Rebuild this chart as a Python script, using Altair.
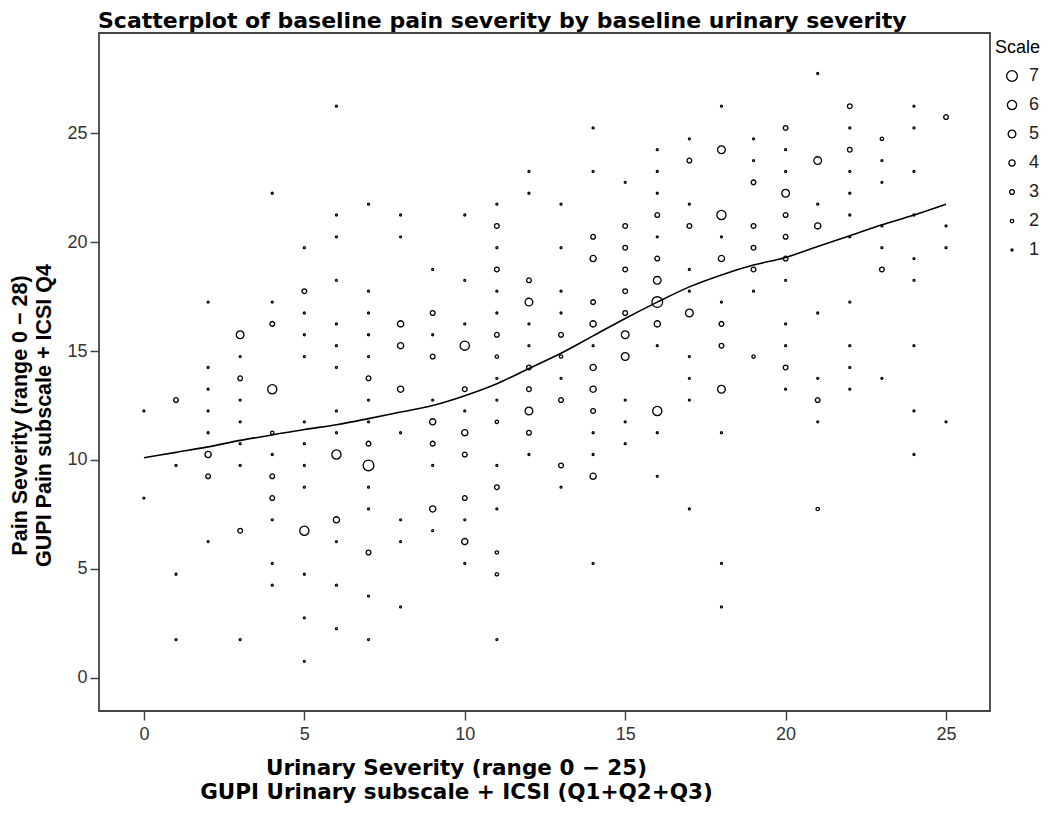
import altair as alt
import pandas as pd

# Urinary severity (x), then pain severity values (y) and count of cases at that point (n)
columns = [
    (0, [12.25, 8.25], [1, 1]),
    (1, [12.75, 9.75, 4.75, 1.75], [3, 1, 1, 1]),
    (2, [17.25, 14.25, 13.25, 12.25, 11.25, 10.25, 9.25, 6.25], [1, 1, 1, 1, 1, 4, 3, 1]),
    (3, [15.75, 14.75, 13.75, 12.75, 11.75, 10.75, 9.75, 6.75, 1.75], [5, 1, 3, 1, 1, 1, 1, 3, 1]),
    (4, [22.25, 17.25, 16.25, 13.25, 11.25, 10.25, 9.25, 8.25, 7.25, 5.25, 4.25], [1, 1, 3, 6, 2, 1, 3, 3, 1, 1, 1]),
    (5, [19.75, 17.75, 16.75, 15.75, 14.75, 11.75, 10.75, 9.75, 8.75, 6.75, 4.75, 2.75, 0.75], [1, 3, 1, 1, 1, 1, 1, 1, 1, 6, 1, 1, 1]),
    (6, [26.25, 21.25, 20.25, 18.25, 16.25, 15.25, 14.25, 12.25, 11.25, 10.25, 7.25, 6.25, 4.25, 2.25], [1, 1, 1, 1, 1, 1, 1, 1, 1, 6, 4, 1, 1, 1]),
    (7, [21.75, 17.75, 16.75, 15.75, 14.75, 13.75, 12.75, 11.75, 10.75, 9.75, 8.75, 7.75, 5.75, 3.75, 1.75], [1, 1, 1, 1, 1, 3, 1, 1, 3, 7, 1, 1, 3, 1, 1]),
    (8, [21.25, 20.25, 16.25, 15.25, 13.25, 11.25, 7.25, 6.25, 3.25], [1, 1, 4, 4, 4, 1, 1, 1, 1]),
    (9, [18.75, 16.75, 15.75, 14.75, 12.75, 11.75, 10.75, 9.75, 7.75, 6.75], [1, 3, 1, 3, 1, 4, 3, 1, 4, 1]),
    (10, [21.25, 18.25, 16.25, 15.25, 13.25, 12.25, 11.25, 10.25, 8.25, 7.25, 6.25, 5.25], [1, 1, 1, 6, 3, 1, 4, 3, 3, 1, 4, 1]),
    (11, [21.75, 20.75, 19.75, 18.75, 17.75, 16.75, 15.75, 14.75, 13.75, 12.75, 11.75, 9.75, 8.75, 7.75, 5.75, 4.75, 1.75], [1, 3, 1, 3, 1, 1, 3, 2, 1, 1, 2, 1, 3, 1, 2, 2, 1]),
    (12, [23.25, 22.25, 18.25, 17.25, 16.25, 15.25, 14.25, 13.25, 12.25, 11.25, 10.25], [1, 1, 3, 5, 1, 1, 3, 3, 5, 3, 1]),
    (13, [21.75, 19.75, 17.75, 16.75, 15.75, 14.75, 13.75, 12.75, 9.75, 8.75], [1, 1, 1, 1, 3, 2, 1, 3, 3, 1]),
    (14, [25.25, 23.25, 20.25, 19.25, 17.25, 16.25, 15.25, 14.25, 13.25, 12.25, 11.25, 10.25, 9.25, 5.25], [1, 1, 3, 4, 3, 4, 1, 4, 4, 3, 1, 1, 4, 1]),
    (15, [22.75, 20.75, 19.75, 18.75, 17.75, 16.75, 15.75, 14.75, 12.75, 11.75, 10.75], [1, 3, 3, 3, 3, 3, 5, 5, 1, 1, 1]),
    (16, [24.25, 23.25, 22.25, 21.25, 20.25, 19.25, 18.25, 17.25, 16.25, 15.25, 12.25, 11.25, 9.25], [1, 1, 1, 3, 1, 3, 5, 7, 4, 1, 6, 1, 1]),
    (17, [24.75, 23.75, 21.75, 20.75, 18.75, 17.75, 16.75, 14.75, 13.75, 12.75, 7.75], [1, 3, 1, 3, 1, 1, 5, 1, 1, 1, 1]),
    (18, [26.25, 24.25, 21.25, 20.25, 19.25, 17.25, 16.25, 15.25, 13.25, 11.25, 5.25, 3.25], [1, 5, 6, 1, 4, 1, 3, 3, 5, 1, 1, 1]),
    (19, [24.75, 23.75, 22.75, 20.75, 19.75, 18.75, 17.75, 14.75], [1, 1, 3, 3, 3, 3, 1, 2]),
    (20, [25.25, 24.25, 23.25, 22.25, 21.25, 20.25, 19.25, 18.25, 16.25, 15.25, 14.25, 13.25], [3, 1, 1, 5, 3, 3, 3, 1, 1, 1, 3, 1]),
    (21, [27.75, 23.75, 21.75, 20.75, 16.75, 13.75, 12.75, 11.75, 7.75], [1, 5, 1, 4, 1, 1, 3, 1, 2]),
    (22, [26.25, 25.25, 24.25, 23.25, 22.25, 21.25, 20.25, 17.25, 15.25, 14.25, 13.25], [3, 1, 3, 1, 1, 1, 1, 1, 1, 1, 1]),
    (23, [24.75, 23.75, 22.75, 20.75, 19.75, 18.75, 13.75], [2, 1, 1, 1, 1, 3, 1]),
    (24, [26.25, 25.25, 23.25, 21.25, 19.25, 18.25, 15.25, 12.25, 10.25], [1, 1, 1, 1, 1, 1, 1, 1, 1]),
    (25, [25.75, 20.75, 19.75, 11.75], [3, 1, 1, 1]),
]

# Loess fit line
fit_x = [0, 1, 2, 3, 4, 5, 6, 7, 8, 9, 10, 11, 12, 13, 14, 15, 16, 17, 18, 19, 20, 21, 22, 23, 24, 25]
fit_y = [10.1, 10.35, 10.6, 10.9, 11.15, 11.4, 11.62, 11.9, 12.2, 12.5, 12.95, 13.5, 14.2, 14.9, 15.7,
         16.5, 17.25, 17.95, 18.5, 18.95, 19.3, 19.8, 20.3, 20.8, 21.25, 21.75]

legend_values = [7, 6, 5, 4, 3, 2, 1]
x_ticks = [0, 5, 10, 15, 20, 25]
y_ticks = [0, 5, 10, 15, 20, 25]

chart_title = "Scatterplot of baseline pain severity by baseline urinary severity"

rows = []
for ux, ys, ns in columns:
    for yv, nv in zip(ys, ns):
        rows.append({"urinary": ux, "pain": yv, "Scale": nv})
points_df = pd.DataFrame(rows)
fit_df = pd.DataFrame({"urinary": fit_x, "pain": fit_y})
title_df = pd.DataFrame({"t": [chart_title]})

FONT = "Liberation Sans"
WIDE = "DejaVu Sans"

x_scale = alt.Scale(domain=[-1.40, 26.37], nice=False, zero=False)
y_scale = alt.Scale(domain=[-1.53, 29.61], nice=False, zero=False)

x_axis = alt.Axis(
    values=x_ticks, grid=False, domain=False,
    tickSize=9, tickColor="#444", tickWidth=1.5,
    labelFont=FONT, labelFontSize=18, labelColor="#333", labelPadding=5,
    title=["Urinary Severity (range 0 \u2212 25)", "GUPI Urinary subscale + ICSI (Q1+Q2+Q3)"],
    titleFont=WIDE, titleFontSize=21.5, titleFontWeight="bold", titleColor="#000",
    titleX=357, titleY=63, titleBaseline="alphabetic", titleLineHeight=24,
)
y_axis = alt.Axis(
    values=y_ticks, grid=False, domain=False,
    tickSize=9, tickColor="#444", tickWidth=1.5,
    labelFont=FONT, labelFontSize=18, labelColor="#333", labelPadding=3,
    title=["Pain Severity (range 0 \u2212 28)", "GUPI Pain subscale + ICSI Q4"],
    titleFont=FONT, titleFontSize=21.5, titleFontWeight="bold", titleColor="#000",
    titleX=-90, titleY=382, titleBaseline="top", titleLineHeight=24, titleAngle=270,
)

points = alt.Chart(points_df).mark_point(
    shape="circle", filled=False, stroke="black", strokeWidth=1.3, opacity=1
).encode(
    x=alt.X("urinary:Q", scale=x_scale, axis=x_axis),
    y=alt.Y("pain:Q", scale=y_scale, axis=y_axis),
    size=alt.Size(
        "Scale:Q",
        scale=alt.Scale(type="pow", exponent=2, domain=[1, 7], range=[4, 115], zero=False),
        legend=alt.Legend(
            values=legend_values, orient="none", legendX=896, legendY=6,
            title="Scale", titleFont=FONT, titleFontSize=18, titleFontWeight="normal",
            titleColor="#000", titlePadding=10,
            labelFont=FONT, labelFontSize=18, labelColor="#222", labelOffset=8,
            symbolStrokeColor="black", symbolFillColor="transparent", symbolStrokeWidth=1.3,
            symbolOffset=8, rowPadding=11, padding=0,
        ),
    ),
)

line = alt.Chart(fit_df).mark_line(color="black", strokeWidth=1.6, interpolate="monotone").encode(
    x=alt.X("urinary:Q", scale=x_scale),
    y=alt.Y("pain:Q", scale=y_scale),
)

title_text = alt.Chart(title_df).mark_text(
    align="left", baseline="alphabetic", font=WIDE, fontSize=22, fontWeight="bold", color="#000"
).encode(
    text="t:N",
    x=alt.value(-1),
    y=alt.value(-5),
)

chart = alt.layer(points, line, title_text).properties(
    width=891,
    height=678,
    autosize=alt.AutoSizeParams(type="none"),
    padding={"left": 91, "top": 25, "right": 52, "bottom": 93},
    background="white",
).configure_view(stroke="#444", strokeWidth=1.8)

chart.save("out.html", embed_options={"renderer": "svg", "actions": False})
